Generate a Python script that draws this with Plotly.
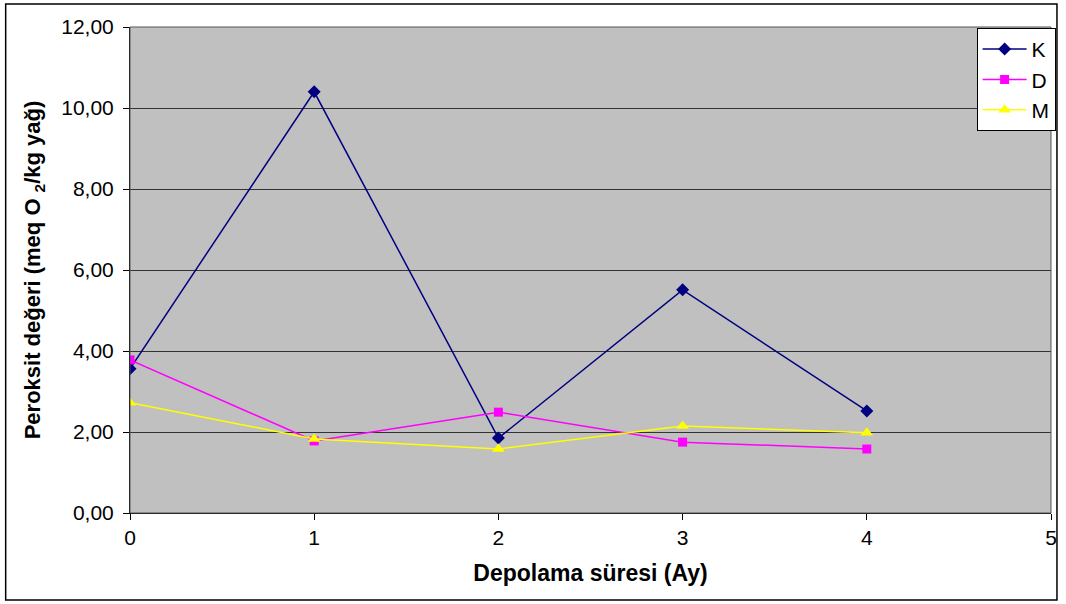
import plotly.graph_objects as go

months = [0, 1, 2, 3, 4]
k_vals = [3.56, 10.40, 1.85, 5.51, 2.52]
d_vals = [3.78, 1.78, 2.49, 1.75, 1.58]
m_vals = [2.72, 1.83, 1.58, 2.15, 1.98]

y_ticks = [0, 2, 4, 6, 8, 10, 12]
y_tick_labels = ["0,00", "2,00", "4,00", "6,00", "8,00", "10,00", "12,00"]
x_ticks = [0, 1, 2, 3, 4, 5]

FONT = "Liberation Sans, Arial, sans-serif"

fig = go.Figure()
fig.add_trace(go.Scatter(x=months, y=k_vals, name="K", mode="lines+markers",
                         line=dict(color="#000080", width=1.5),
                         marker=dict(symbol="diamond", size=10, color="#000080")))
fig.add_trace(go.Scatter(x=months, y=d_vals, name="D", mode="lines+markers",
                         line=dict(color="#FF00FF", width=1.5),
                         marker=dict(symbol="square", size=9, color="#FF00FF")))
fig.add_trace(go.Scatter(x=months, y=m_vals, name="M", mode="lines+markers",
                         line=dict(color="#FFFF00", width=1.5),
                         marker=dict(symbol="triangle-up", size=11, color="#FFFF00")))

fig.update_layout(
    width=1066, height=604,
    margin=dict(l=130, r=10, t=27, b=91),
    paper_bgcolor="white",
    plot_bgcolor="#C0C0C0",
    font=dict(family=FONT, size=21, color="black"),
    showlegend=True,
    legend=dict(x=1.005, y=0.998, xanchor="right", yanchor="top",
                bgcolor="white", bordercolor="black", borderwidth=1,
                font=dict(size=21, family=FONT), tracegroupgap=0,
                itemwidth=44),
    xaxis=dict(range=[0, 5], tickvals=x_ticks, ticks="outside", ticklen=6,
               tickcolor="black", showgrid=False, zeroline=False,
               showline=True, linecolor="black", linewidth=1, mirror=False,
               tickfont=dict(size=21, family=FONT),
               title=dict(text="<b>Depolama süresi (Ay)</b>",
                          font=dict(size=23, family=FONT), standoff=16)),
    yaxis=dict(range=[0, 12], tickvals=y_ticks, ticktext=y_tick_labels,
               ticks="outside", ticklen=6, tickcolor="black",
               ticklabelstandoff=5,
               showgrid=True, gridcolor="#333333", gridwidth=1, zeroline=False,
               showline=True, linecolor="black", linewidth=1,
               tickfont=dict(size=21, family=FONT),
               title=dict(text="<b>Peroksit değeri (meq O <sub>2</sub>/kg yağ)</b>",
                          font=dict(size=22, family=FONT), standoff=14)),
    shapes=[
        dict(type="rect", xref="paper", yref="paper",
             x0=(5 - 130) / 926, x1=(1062 - 130) / 926,
             y0=(513 - 600) / 486, y1=(513 - 4) / 486,
             line=dict(color="black", width=1.5), fillcolor="rgba(0,0,0,0)", layer="below"),
        dict(type="rect", xref="paper", yref="paper", x0=0, x1=1, y0=0, y1=1,
             line=dict(color="#555555", width=1), fillcolor="rgba(0,0,0,0)"),
    ],
)

fig.write_html("out.html")
